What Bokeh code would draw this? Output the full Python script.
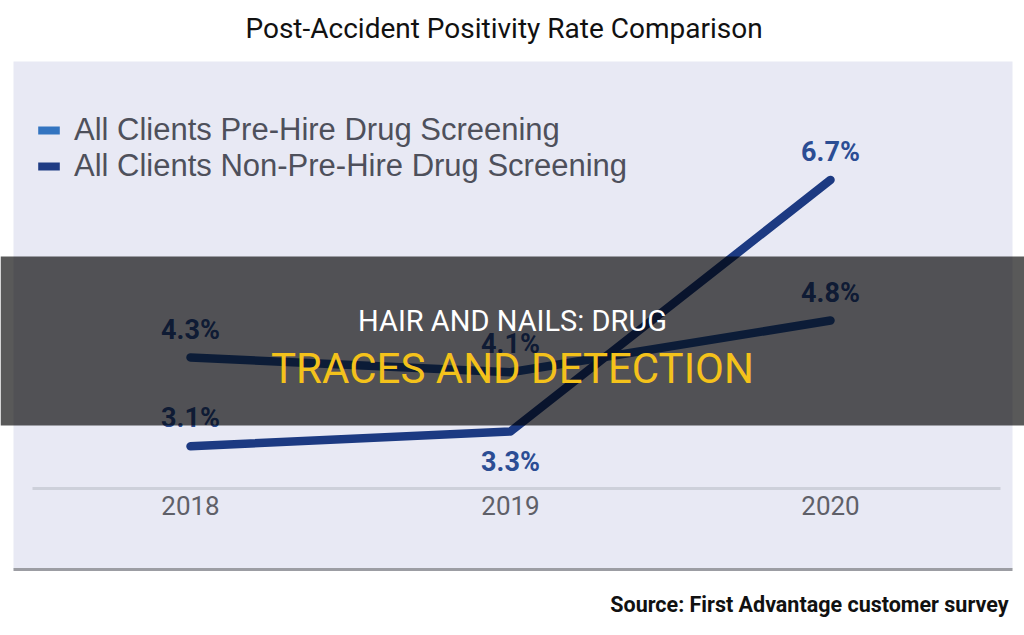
from bokeh.plotting import figure
from bokeh.models import (Range1d, BoxAnnotation, Label, Legend, LegendItem,
                          ColumnDataSource)
from bokeh.core.properties import value
from bokeh.embed import file_html
from bokeh.resources import INLINE

# ---- data ----
years = [2018, 2019, 2020]
year_labels = ["2018", "2019", "2020"]
pre_hire = [4.3, 4.1, 4.8]
non_pre_hire = [3.1, 3.3, 6.7]
series_names = ["All Clients Pre-Hire Drug Screening",
                "All Clients Non-Pre-Hire Drug Screening"]
title_text = "Post-Accident  Positivity Rate Comparison"
source_text = "Source: First Advantage customer survey"
overlay_line1 = "HAIR AND NAILS: DRUG"
overlay_line2 = "TRACES AND DETECTION"

W, H = 1024, 635
PX_PER_YEAR = 320.0
PX_PER_PCT = 74.0
x0 = years[0] - 190 / PX_PER_YEAR
ytop = pre_hire[0] + 357 / PX_PER_PCT

def X(px):
    return x0 + px / PX_PER_YEAR

def Y(py):
    return ytop - py / PX_PER_PCT

p = figure(width=W, height=H, output_backend="svg", toolbar_location=None,
           x_range=Range1d(x0, X(W)), y_range=Range1d(Y(H), ytop),
           x_axis_location=None, y_axis_location=None, min_border=0,
           background_fill_color="white", border_fill_color="white",
           outline_line_color=None)
p.grid.visible = False

NARROW = "Roboto"

# panel background
p.add_layout(BoxAnnotation(left=X(13), right=X(1012), top=Y(61), bottom=Y(569),
                           fill_color="#e8e9f4", fill_alpha=1, line_color=None,
                           level="underlay"))
# panel bottom border
p.segment(x0=[X(13)], y0=[Y(569)], x1=[X(1012)], y1=[Y(569)],
          line_color="#9c9da3", line_width=3)
# baseline axis line
p.segment(x0=[X(32)], y0=[Y(488)], x1=[X(1000)], y1=[Y(488)],
          line_color="#cdd0da", line_width=3)

c_pre = "#24529f"
c_non = "#1c3a82"
r1 = p.line(years, pre_hire, line_color=c_pre, line_width=8.5, line_cap="round",
            line_join="round")
r2 = p.line(years, non_pre_hire, line_color=c_non, line_width=8.5, line_cap="round",
            line_join="round")

# data labels
lab_col = "#2b4d94"
above_vals = pre_hire + non_pre_hire[:1] + non_pre_hire[2:]
above = dict(x=years + years[:1] + years[2:], y=above_vals,
             t=[f"{v}%" for v in above_vals])
p.text(x="x", y="y", text="t", source=ColumnDataSource(above),
       text_align="center", text_baseline="bottom", y_offset=-12,
       text_font=value("Roboto"), text_font_style="bold",
       text_font_size="27px", text_color=lab_col)
below = dict(x=years[1:2], y=non_pre_hire[1:2],
             t=[f"{v}%" for v in non_pre_hire[1:2]])
p.text(x="x", y="y", text="t", source=ColumnDataSource(below),
       text_align="center", text_baseline="top", y_offset=14,
       text_font=value("Roboto"), text_font_style="bold",
       text_font_size="27px", text_color=lab_col)

# year labels
p.text(x=years, y=[Y(505)] * 3, text=year_labels, text_align="center",
       text_baseline="middle", text_font=value(NARROW), text_font_size="26px",
       text_color="#5f6068")

# legend with rectangular swatches (dummy renderers placed outside the view)
d1 = p.quad(left=[x0 - 2], right=[x0 - 1], top=[ytop + 2], bottom=[ytop + 1],
            fill_color="#3374c0", line_color=None)
d2 = p.quad(left=[x0 - 2], right=[x0 - 1], top=[ytop + 2], bottom=[ytop + 1],
            fill_color="#1f3c84", line_color=None)
legend = Legend(items=[LegendItem(label=series_names[0], renderers=[d1]),
                       LegendItem(label=series_names[1], renderers=[d2])],
                location=(35, H - 184), orientation="vertical",
                background_fill_alpha=0, border_line_color=None,
                label_text_font="Liberation Sans", label_text_font_size="31px",
                label_text_color="#4e505b", glyph_width=27, glyph_height=10,
                label_standoff=12, spacing=0, padding=0, margin=0,
                label_height=34)
p.add_layout(legend)

# title
p.add_layout(Label(x=X(507), y=Y(28), text=title_text, text_align="center",
                   text_baseline="middle", text_font=NARROW,
                   text_font_size="28px", text_color="#111111"))
# source
p.add_layout(Label(x=X(1008), y=Y(604), text=source_text, text_align="right",
                   text_baseline="middle", text_font=NARROW, text_font_style="bold",
                   text_font_size="21.5px", text_color="#111111"))

# overlay banner
p.add_layout(BoxAnnotation(left=X(0), right=X(W), top=Y(256), bottom=Y(425),
                           fill_color="black", fill_alpha=0.65, line_color=None))
p.add_layout(Label(x=X(512), y=Y(320), text=overlay_line1, text_align="center",
                   text_baseline="middle", text_font=NARROW,
                   text_font_size="29px", text_color="white"))
p.add_layout(Label(x=X(512), y=Y(368), text=overlay_line2, text_align="center",
                   text_baseline="middle", text_font=NARROW,
                   text_font_size="42px", text_color="#f4c21b"))

open("out.html", "w").write(file_html(p, INLINE))
